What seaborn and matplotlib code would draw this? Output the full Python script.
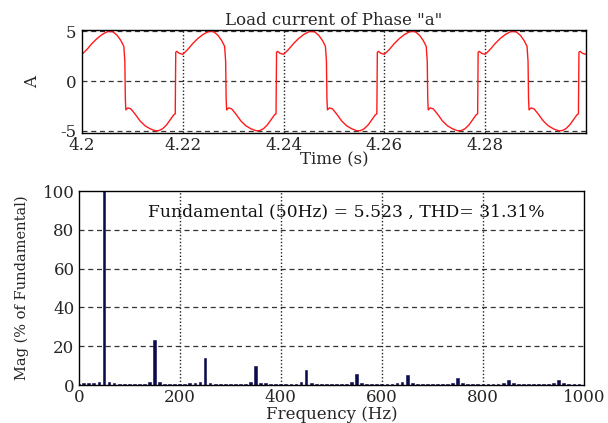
import numpy as np
import pandas as pd
import matplotlib
matplotlib.use("Agg")
import matplotlib.pyplot as plt
import seaborn as sns

# ---- data ----
# one period of the load current (time offset within the 20 ms period, value in A)
cycle_offset = [0.0000, 0.0010, 0.0020, 0.0030, 0.0040, 0.0050, 0.0056, 0.0062,
                0.0070, 0.0077, 0.0083, 0.0085, 0.0086, 0.0087, 0.0091, 0.0097,
                0.0105, 0.0115, 0.0125, 0.0135, 0.0145, 0.0152, 0.0160, 0.0168,
                0.0175, 0.0182, 0.0185, 0.0186, 0.0188, 0.0193]
cycle_value = [2.7, 3.2, 3.8, 4.3, 4.7, 4.97, 5.0, 4.95,
               4.6, 4.1, 3.5, 2.0, -1.8, -2.9, -2.7, -2.8,
               -3.3, -4.0, -4.5, -4.8, -5.0, -5.0, -4.8, -4.4,
               -3.9, -3.4, -3.3, 2.9, 3.0, 2.8]
cycle_starts = [4.20, 4.22, 4.24, 4.26, 4.28]
end_time = [4.30]
end_value = [2.7]

freq = list(range(0, 1001, 10))
mag = [0.3,
       0.8, 0.8, 0.8, 1.8, 100, 1.8, 1.0, 0.7, 0.6, 0.6,
       0.6, 0.6, 0.7, 1.6, 23, 1.3, 0.7, 0.6, 0.5, 0.4,
       0.6, 0.8, 0.9, 1.6, 14, 1.2, 0.6, 0.6, 0.3, 0.3,
       0.5, 0.6, 0.6, 1.3, 10, 1.2, 0.8, 0.5, 0.3, 0.3,
       0.6, 0.6, 0.6, 1.3, 7.5, 1.0, 0.7, 0.6, 0.3, 0.4,
       0.6, 0.6, 0.7, 1.5, 5.9, 1.2, 0.7, 0.6, 0.5, 0.4,
       0.6, 0.7, 0.8, 1.4, 4.9, 1.0, 0.6, 0.6, 0.5, 0.3,
       0.5, 0.6, 0.7, 1.2, 3.5, 1.0, 0.6, 0.5, 0.5, 0.5,
       0.6, 0.6, 0.7, 1.2, 2.8, 1.0, 0.6, 0.6, 0.5, 0.5,
       0.6, 0.6, 0.7, 1.2, 2.6, 1.0, 0.6, 0.6, 0.5, 0.0]

top_xticks = [4.2, 4.22, 4.24, 4.26, 4.28]
top_xticklabels = ["4.2", "4.22", "4.24", "4.26", "4.28"]
top_yticks = [-5, 0, 5]
bot_xticks = [0, 200, 400, 600, 800, 1000]
bot_yticks = [0, 20, 40, 60, 80, 100]

title_text = 'Load current of Phase "a"'
annot_text = "Fundamental (50Hz) = 5.523 , THD= 31.31%"

# ---- build the time series ----
t = []
v = []
for s in cycle_starts:
    for o, val in zip(cycle_offset, cycle_value):
        t.append(s + o)
        v.append(val)
t += end_time
v += end_value
wave = pd.DataFrame({"t": t, "i": v})
spec = pd.DataFrame({"f": freq, "m": mag})

sns.set_theme(style="white")
plt.rcParams["font.family"] = ["DejaVu Serif"]
plt.rcParams["axes.edgecolor"] = "black"
plt.rcParams["axes.linewidth"] = 1.0

W, H = 608, 423
fig = plt.figure(figsize=(W / 100, H / 100), dpi=100)
fig.patch.set_facecolor("white")

def px_axes(l, t_, r, b):
    return fig.add_axes([l / W, (H - b) / H, (r - l) / W, (b - t_) / H])

ax1 = px_axes(82, 30.5, 586, 132.7)
ax2 = px_axes(78.7, 191, 584, 385)

tick_fs = 12
lab_fs = 12

# top: waveform
sns.lineplot(data=wave, x="t", y="i", ax=ax1, color="#ff1a1a", linewidth=1.0,
             estimator=None, sort=False)
ax1.set_xlim(4.2, 4.3)
ax1.set_ylim(-5.2, 5.1)
ax1.set_xticks(top_xticks)
ax1.set_xticklabels(top_xticklabels)
ax1.set_yticks(top_yticks)
ax1.set_yticklabels(["-5", "0", "5"])
for y in top_yticks:
    ax1.axhline(y, color="#333333", linestyle=(0, (4, 3)), linewidth=0.9, zorder=0)
for x in top_xticks[1:]:
    ax1.axvline(x, color="#222222", linestyle=(0, (1, 1.5)), linewidth=1.0, zorder=0)
ax1.set_title(title_text, fontsize=lab_fs, pad=4)
ax1.set_xlabel("Time (s)", fontsize=lab_fs, labelpad=-2)
ax1.set_ylabel("A", fontsize=lab_fs, labelpad=14)
ax1.tick_params(axis="x", labelsize=tick_fs, length=0, pad=3)
ax1.tick_params(axis="y", labelsize=tick_fs, length=0, pad=4)

# bottom: spectrum
sns.barplot(data=spec, x="f", y="m", ax=ax2, native_scale=True, width=0.55,
            color="#0b0b4f", saturation=1, edgecolor="#0b0b4f", linewidth=0.4)
ax2.set_xlim(0, 1000)
ax2.set_ylim(0, 100)
ax2.set_xticks(bot_xticks)
ax2.set_xticklabels([str(x) for x in bot_xticks])
ax2.set_yticks(bot_yticks)
ax2.set_yticklabels([str(y) for y in bot_yticks])
for y in bot_yticks[1:-1]:
    ax2.axhline(y, color="#333333", linestyle=(0, (4, 3)), linewidth=0.9, zorder=0)
for x in bot_xticks[1:-1]:
    ax2.axvline(x, color="#222222", linestyle=(0, (1, 1.5)), linewidth=1.0, zorder=0)
ax2.text(137, 89, annot_text, fontsize=12.3, ha="left", va="center", color="#111111")
ax2.set_xlabel("Frequency (Hz)", fontsize=lab_fs, labelpad=0)
ax2.set_ylabel("Mag (% of Fundamental)", fontsize=10.5, labelpad=10)
ax2.tick_params(axis="both", labelsize=tick_fs, length=0, pad=3)

for ax in (ax1, ax2):
    for sp in ax.spines.values():
        sp.set_visible(True)
        sp.set_color("black")
        sp.set_linewidth(1.0)
    ax.grid(False)

fig.savefig("out.png", dpi=100, facecolor="white")
